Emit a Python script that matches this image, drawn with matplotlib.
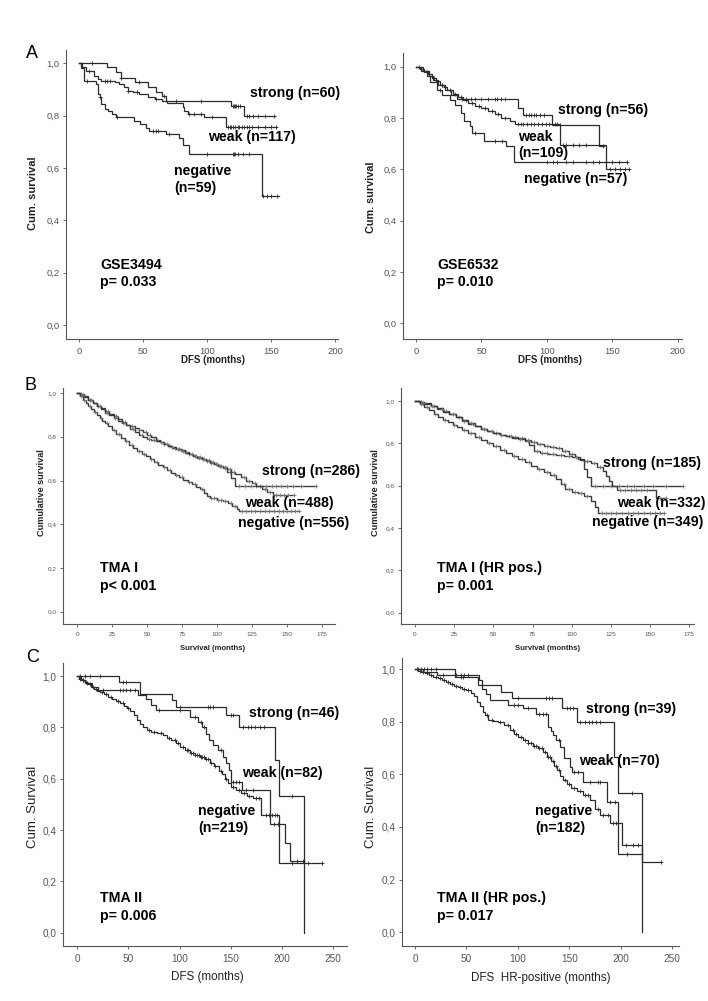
import matplotlib
matplotlib.use('Agg')
import matplotlib.pyplot as plt
import numpy as np

plt.rcParams['font.family'] = ['Liberation Sans', 'DejaVu Sans']

# ---------------- DATA ----------------
# Panel A left: GSE3494
a1_strong_t = [22, 29, 33, 44, 54, 60, 65, 68, 119, 129]
a1_strong_s = [0.987, 0.966, 0.944, 0.927, 0.908, 0.889, 0.876, 0.857, 0.838, 0.797]
a1_strong_end = 153
a1_strong_c = [10, 33, 47, 66, 76, 95, 120, 121, 122, 123, 124, 126, 131, 133, 136, 140, 145, 152]
a1_weak_t = [2, 5.5, 12, 14.6, 17, 28, 31.5, 35, 38, 42, 47, 54, 59, 65, 69, 81, 82, 85, 98, 115]
a1_weak_s = [0.987, 0.972, 0.953, 0.94, 0.931, 0.927, 0.92, 0.908, 0.896, 0.889, 0.883, 0.873, 0.864,
             0.857, 0.847, 0.834, 0.819, 0.806, 0.794, 0.755]
a1_weak_end = 154
a1_weak_c = [8, 20, 22, 24, 38, 45, 60, 86, 90, 95, 104, 116, 118, 119, 120, 122, 124, 125, 127, 129,
             131, 133, 135, 140, 145, 150, 154]
a1_neg_t = [1.6, 4.2, 13.3, 14.6, 16, 17.2, 20, 22.4, 26, 29, 43, 48, 52, 55, 68, 78, 81, 86, 143]
a1_neg_s = [0.983, 0.934, 0.921, 0.883, 0.873, 0.845, 0.825, 0.819, 0.806, 0.796, 0.781, 0.768, 0.753,
            0.743, 0.732, 0.715, 0.689, 0.655, 0.493]
a1_neg_end = 156
a1_neg_c = [6, 16, 30, 58, 60, 62, 70, 100, 120, 121, 122, 124, 128, 133, 144, 147, 150, 155]

# Panel A right: GSE6532
a2_strong_t = [4, 10, 13, 17, 22, 27, 31, 78, 82, 104, 140]
a2_strong_s = [0.982, 0.964, 0.946, 0.928, 0.91, 0.891, 0.873, 0.84, 0.811, 0.772, 0.69]
a2_strong_end = 143
a2_strong_c = [2, 20, 35, 38, 42, 45, 50, 55, 60, 62, 65, 68, 84, 86, 88, 90, 92, 95, 98, 110, 143]
a2_weak_t = [3, 6, 9, 12, 15, 18, 21, 24, 28, 32, 36, 40, 45, 50, 55, 60, 65, 72, 76, 110, 145]
a2_weak_s = [0.99, 0.98, 0.97, 0.955, 0.945, 0.93, 0.92, 0.91, 0.895, 0.88, 0.868, 0.858, 0.848, 0.838,
             0.828, 0.815, 0.8, 0.787, 0.775, 0.695, 0.6]
a2_weak_end = 163
a2_weak_c = [8, 14, 20, 22, 26, 30, 34, 38, 43, 48, 53, 58, 63, 68, 78, 80, 82, 85, 88, 90, 93, 96, 99,
             102, 106, 108, 112, 115, 120, 125, 130, 148, 152, 156, 160, 163]
a2_neg_t = [5, 8, 11, 16, 20, 26, 30, 34, 37, 41, 43, 52, 69, 75]
a2_neg_s = [0.982, 0.965, 0.94, 0.91, 0.89, 0.87, 0.85, 0.82, 0.79, 0.77, 0.74, 0.71, 0.69, 0.627]
a2_neg_end = 161
a2_neg_c = [18, 45, 60, 66, 100, 105, 108, 115, 120, 130, 135, 140, 150, 155, 161]

# Panel B left: TMA I
b1_strong_t = [2, 5, 8, 11, 14, 17, 20, 23, 26, 29, 32, 35, 38, 41, 44, 47, 50, 53, 56, 59, 62, 65, 68,
               71, 74, 77, 80, 83, 86, 89, 92, 95, 98, 101, 104, 107, 110, 113]
b1_strong_s = [0.995, 0.985, 0.97, 0.955, 0.94, 0.925, 0.91, 0.9, 0.885, 0.872, 0.862, 0.855, 0.848,
               0.84, 0.832, 0.822, 0.81, 0.797, 0.785, 0.775, 0.765, 0.757, 0.75, 0.742, 0.735, 0.728,
               0.72, 0.712, 0.705, 0.698, 0.69, 0.682, 0.674, 0.665, 0.655, 0.64, 0.61, 0.574]
b1_strong_end = 171
b1_strong_c = [3, 9, 15, 21, 27, 33, 39, 44, 49, 52, 57, 62, 66, 70, 73, 76, 80, 84, 87, 90, 93, 96, 99,
               102, 106, 109, 116, 120, 124, 128, 131, 135, 139, 142, 146, 150, 154, 160, 171]
b1_weak_t = [2, 5, 8, 11, 14, 17, 20, 23, 26, 29, 32, 35, 38, 41, 44, 47, 50, 53, 56, 59, 62, 65, 68,
             71, 74, 77, 80, 83, 86, 89, 92, 95, 98, 101, 104, 107, 110, 113, 117, 121, 125, 128, 132,
             136, 140]
b1_weak_s = [0.99, 0.98, 0.968, 0.955, 0.942, 0.93, 0.918, 0.905, 0.893, 0.88, 0.868, 0.852, 0.835,
             0.822, 0.81, 0.8, 0.792, 0.786, 0.782, 0.776, 0.768, 0.76, 0.752, 0.745, 0.738, 0.73,
             0.722, 0.714, 0.707, 0.7, 0.692, 0.684, 0.676, 0.668, 0.66, 0.652, 0.64, 0.63, 0.615, 0.6,
             0.588, 0.575, 0.562, 0.548, 0.533]
b1_weak_end = 155
b1_weak_c = [4, 10, 16, 22, 28, 34, 40, 46, 51, 55, 60, 64, 68, 72, 75, 78, 82, 85, 88, 91, 94, 97,
             100, 103, 106, 109, 112, 119, 123, 127, 134, 138, 142, 145, 148, 151, 155]
b1_neg_t = [2, 4, 6, 8, 10, 12, 14, 16, 18, 20, 22, 25, 28, 31, 34, 37, 40, 43, 46, 49, 52, 55, 58, 61,
            64, 67, 70, 73, 76, 79, 82, 85, 88, 91, 93, 95, 100, 104, 108, 111, 114, 116]
b1_neg_s = [0.985, 0.97, 0.955, 0.94, 0.926, 0.913, 0.9, 0.887, 0.874, 0.861, 0.848, 0.83, 0.812,
            0.795, 0.779, 0.763, 0.748, 0.735, 0.722, 0.71, 0.698, 0.686, 0.673, 0.66, 0.647, 0.636,
            0.625, 0.614, 0.603, 0.592, 0.582, 0.572, 0.56, 0.545, 0.53, 0.518, 0.512, 0.505, 0.495,
            0.483, 0.472, 0.46]
b1_neg_end = 159
b1_neg_c = [3, 5, 9, 13, 17, 21, 26, 30, 35, 39, 44, 48, 53, 57, 62, 66, 71, 75, 80, 84, 89, 96, 98,
            101, 103, 106, 110, 113, 118, 121, 124, 127, 131, 134, 137, 141, 144, 147, 150, 153, 156, 159]

# Panel B right: TMA I (HR pos.)
b2_strong_t = [3, 6, 10, 14, 18, 22, 26, 30, 34, 38, 42, 46, 50, 54, 58, 62, 66, 70, 74, 78, 82, 86,
               90, 94, 98, 102, 105, 108, 110, 112]
b2_strong_s = [0.995, 0.988, 0.978, 0.966, 0.953, 0.94, 0.925, 0.91, 0.895, 0.88, 0.868, 0.857, 0.848,
               0.84, 0.835, 0.83, 0.823, 0.815, 0.805, 0.795, 0.788, 0.782, 0.776, 0.765, 0.748, 0.735,
               0.72, 0.68, 0.64, 0.598]
b2_strong_end = 171
b2_strong_c = [4, 12, 20, 28, 36, 44, 52, 60, 64, 68, 72, 76, 80, 84, 88, 92, 96, 100, 115, 120, 125,
               130, 135, 140, 146, 152, 160, 171]
b2_weak_t = [3, 6, 10, 14, 18, 22, 26, 30, 34, 38, 42, 46, 50, 54, 58, 62, 66, 70, 73, 76, 80, 85, 90,
             95, 100, 104, 108, 112, 116, 120, 122, 124, 126, 129, 154]
b2_weak_s = [0.992, 0.985, 0.975, 0.963, 0.95, 0.937, 0.922, 0.907, 0.893, 0.88, 0.868, 0.857, 0.848,
             0.84, 0.833, 0.827, 0.82, 0.81, 0.79, 0.765, 0.755, 0.75, 0.745, 0.74, 0.735, 0.725,
             0.715, 0.705, 0.69, 0.67, 0.645, 0.62, 0.6, 0.578, 0.54]
b2_weak_end = 160
b2_weak_c = [5, 11, 17, 24, 31, 37, 44, 49, 55, 61, 67, 72, 78, 81, 84, 88, 93, 98, 103, 110, 114,
             118, 131, 134, 138, 141, 144, 148, 156, 160]
b2_neg_t = [3, 6, 9, 12, 15, 18, 21, 24, 27, 30, 34, 38, 42, 46, 50, 54, 58, 62, 66, 70, 74, 78, 82,
            86, 90, 93, 96, 100, 104, 108, 112, 115, 117]
b2_neg_s = [0.985, 0.97, 0.955, 0.94, 0.926, 0.912, 0.9, 0.888, 0.876, 0.864, 0.848, 0.832, 0.815,
            0.8, 0.785, 0.77, 0.755, 0.74, 0.725, 0.71, 0.695, 0.68, 0.665, 0.65, 0.632, 0.61, 0.585,
            0.572, 0.565, 0.55, 0.527, 0.5, 0.472]
b2_neg_end = 159
b2_neg_c = [4, 8, 13, 19, 25, 31, 36, 41, 47, 52, 57, 63, 68, 73, 79, 84, 89, 95, 98, 102, 106, 110,
            119, 122, 125, 128, 132, 136, 139, 142, 146, 150, 153, 156, 159]

# Panel C left: TMA II
c1_strong_t = [41, 61, 93, 96, 145, 158, 193, 197, 221]
c1_strong_s = [0.978, 0.932, 0.906, 0.88, 0.848, 0.803, 0.673, 0.534, 0.0]
c1_strong_end = 221
c1_strong_c = [3, 8, 12, 22, 45, 48, 100, 128, 130, 133, 150, 152, 162, 167, 170, 174, 178, 182, 210]
c1_weak_t = [4, 8, 14, 20, 59, 67, 72, 77, 110, 118, 122, 126, 129, 133, 137, 142, 145, 148, 150, 161,
             188, 203, 208]
c1_weak_s = [0.985, 0.972, 0.958, 0.946, 0.926, 0.909, 0.888, 0.867, 0.841, 0.822, 0.8, 0.775, 0.75,
             0.73, 0.71, 0.686, 0.66, 0.634, 0.588, 0.556, 0.425, 0.35, 0.28]
c1_weak_end = 221
c1_weak_c = [6, 10, 25, 42, 45, 48, 52, 56, 80, 100, 115, 121, 124, 140, 152, 155, 158, 165, 172, 192,
             196, 215, 220]
c1_neg_t = [2, 5, 8, 10, 13, 16, 19, 22, 26, 30, 34, 38, 42, 46, 49, 52, 55, 58, 61, 64, 68, 72, 78,
            84, 88, 92, 96, 100, 105, 110, 115, 120, 125, 130, 134, 138, 141, 144, 147, 150, 155, 160,
            166, 172, 179, 197]
c1_neg_s = [0.99, 0.984, 0.975, 0.968, 0.958, 0.95, 0.943, 0.937, 0.93, 0.92, 0.912, 0.903, 0.895,
            0.885, 0.876, 0.862, 0.85, 0.83, 0.815, 0.8, 0.788, 0.783, 0.777, 0.77, 0.76, 0.75, 0.738,
            0.725, 0.712, 0.7, 0.692, 0.684, 0.675, 0.662, 0.648, 0.632, 0.618, 0.6, 0.582, 0.568,
            0.557, 0.545, 0.532, 0.523, 0.458, 0.27]
c1_neg_end = 239
c1_neg_c = [3, 6, 9, 12, 15, 18, 24, 28, 33, 40, 45, 50, 70, 75, 82, 90, 95, 98, 103, 107, 108, 111,
            113, 115, 117, 119, 121, 122, 124, 126, 128, 131, 135, 140, 145, 152, 158, 163, 168, 175,
            177, 184, 187, 190, 193, 195, 210, 225, 239]

# Panel C right: TMA II (HR pos.)
c2_strong_t = [39, 61.5, 84, 94, 142.5, 157, 193, 197, 221]
c2_strong_s = [0.972, 0.94, 0.915, 0.889, 0.851, 0.8, 0.667, 0.53, 0.0]
c2_strong_end = 221
c2_strong_c = [3, 6, 9, 12, 16, 20, 45, 47, 100, 127, 130, 133, 148, 151, 154, 160, 165, 169, 172, 176,
               180, 211]
c2_weak_t = [8, 21, 62, 65, 69, 73, 90, 105, 118, 129.6, 132, 134.5, 137, 141, 145, 150.6, 153, 163.6,
             187, 197]
c2_weak_s = [0.99, 0.977, 0.958, 0.926, 0.907, 0.882, 0.863, 0.851, 0.831, 0.78, 0.765, 0.75, 0.73,
             0.705, 0.661, 0.63, 0.61, 0.572, 0.495, 0.297]
c2_weak_end = 221
c2_weak_c = [12, 27, 40, 45, 48, 52, 96, 100, 110, 121, 124, 127, 140, 155, 158, 170, 178, 180, 190,
             194, 206]
c2_neg_t = [3, 6, 10, 14, 18, 22, 26, 30, 34, 38, 42, 46, 50, 54, 57, 60, 63, 66, 68, 71, 76, 81, 87,
            92, 96, 100, 105, 110, 115, 120, 124, 128, 132, 135, 138, 141, 144, 148, 152, 157, 163,
            170, 175, 180, 190, 201, 221]
c2_neg_s = [0.995, 0.99, 0.985, 0.98, 0.972, 0.965, 0.958, 0.952, 0.945, 0.938, 0.932, 0.925, 0.92,
            0.91, 0.9, 0.877, 0.86, 0.839, 0.825, 0.807, 0.803, 0.8, 0.788, 0.77, 0.755, 0.743, 0.73,
            0.718, 0.71, 0.7, 0.685, 0.668, 0.65, 0.632, 0.615, 0.595, 0.578, 0.562, 0.55, 0.538,
            0.521, 0.502, 0.47, 0.445, 0.415, 0.333, 0.265]
c2_neg_end = 239
c2_neg_c = [2, 5, 8, 12, 16, 20, 24, 28, 32, 36, 40, 44, 48, 52, 70, 75, 83, 90, 95, 98, 103, 107,
            110, 113, 116, 118, 121, 123, 126, 129, 131, 134, 137, 140, 146, 150, 155, 160, 165, 168,
            178, 183, 188, 192, 195, 205, 212, 217, 239]

# ---------------- FIGURE ----------------
W, H = 708, 1001
fig = plt.figure(figsize=(W / 100, H / 100), dpi=100)


def fx(x):
    return x / W


def fy(y):
    return 1 - y / H


def km(ax, t, s, end, cens, color, lw, ms, mcolor):
    t = np.asarray(t, float)
    s = np.asarray(s, float)
    xs = np.concatenate([[0.0], t, [end]])
    ys = np.concatenate([[1.0], s, [s[-1]]])
    ax.step(xs, ys, where='post', color=color, lw=lw, solid_joinstyle='miter')
    c = np.asarray(cens, float)
    idx = np.searchsorted(t, c, side='right')
    yc = np.concatenate([[1.0], s])[idx]
    ax.plot(c, yc, ls='none', marker='+', ms=ms, mew=0.6, color=mcolor)


def fmt_comma(v):
    return ('%.1f' % v).replace('.', ',')


panels = [
    dict(rect=(66, 50, 338, 339), xlim=(-10.2, 202.3), ylim=(-0.053, 1.051), xt=[0, 50, 100, 150, 200],
         tfs=6.8, curves=[(a1_strong_t, a1_strong_s, a1_strong_end, a1_strong_c),
                          (a1_weak_t, a1_weak_s, a1_weak_end, a1_weak_c),
                          (a1_neg_t, a1_neg_s, a1_neg_end, a1_neg_c)], dense=False),
    dict(rect=(403, 53, 682, 339), xlim=(-10, 203.4), ylim=(-0.061, 1.053), xt=[0, 50, 100, 150, 200],
         tfs=6.8, curves=[(a2_strong_t, a2_strong_s, a2_strong_end, a2_strong_c),
                          (a2_weak_t, a2_weak_s, a2_weak_end, a2_weak_c),
                          (a2_neg_t, a2_neg_s, a2_neg_end, a2_neg_c)], dense=False),
    dict(rect=(63, 388, 335, 624), xlim=(-10.2, 184.4), ylim=(-0.056, 1.023),
         xt=[0, 25, 50, 75, 100, 125, 150, 175], tfs=4.6,
         curves=[(b1_strong_t, b1_strong_s, b1_strong_end, b1_strong_c),
                 (b1_weak_t, b1_weak_s, b1_weak_end, b1_weak_c),
                 (b1_neg_t, b1_neg_s, b1_neg_end, b1_neg_c)], dense=True),
    dict(rect=(401, 388, 694, 624), xlim=(-8.9, 178), ylim=(-0.053, 1.061),
         xt=[0, 25, 50, 75, 100, 125, 150, 175], tfs=4.6,
         curves=[(b2_strong_t, b2_strong_s, b2_strong_end, b2_strong_c),
                 (b2_weak_t, b2_weak_s, b2_weak_end, b2_weak_c),
                 (b2_neg_t, b2_neg_s, b2_neg_end, b2_neg_c)], dense=True),
    dict(rect=(63, 663, 347, 946), xlim=(-13.9, 263.4), ylim=(-0.052, 1.051),
         xt=[0, 50, 100, 150, 200, 250], tfs=7.2,
         curves=[(c1_strong_t, c1_strong_s, c1_strong_end, c1_strong_c),
                 (c1_weak_t, c1_weak_s, c1_weak_end, c1_weak_c),
                 (c1_neg_t, c1_neg_s, c1_neg_end, c1_neg_c)], dense=False),
    dict(rect=(402, 658, 679, 946), xlim=(-12.6, 256.6), ylim=(-0.053, 1.043),
         xt=[0, 50, 100, 150, 200, 250], tfs=7.2,
         curves=[(c2_strong_t, c2_strong_s, c2_strong_end, c2_strong_c),
                 (c2_weak_t, c2_weak_s, c2_weak_end, c2_weak_c),
                 (c2_neg_t, c2_neg_s, c2_neg_end, c2_neg_c)], dense=False),
]

yt = [0.0, 0.2, 0.4, 0.6, 0.8, 1.0]
for p in panels:
    x0, y0, x1, y1 = p['rect']
    ax = fig.add_axes([fx(x0), fy(y1), (x1 - x0) / W, (y1 - y0) / H])
    ax.set_xlim(*p['xlim'])
    ax.set_ylim(*p['ylim'])
    for side in ('top', 'right'):
        ax.spines[side].set_visible(False)
    for side in ('left', 'bottom'):
        ax.spines[side].set_color('#555555')
        ax.spines[side].set_linewidth(0.8)
    ax.set_yticks(yt)
    ax.set_yticklabels([fmt_comma(v) for v in yt])
    ax.set_xticks(p['xt'])
    ax.set_xticklabels([str(v) for v in p['xt']])
    ax.tick_params(axis='both', colors='#555555', labelcolor='#555555', labelsize=p['tfs'],
                   length=2.5, width=0.6, pad=2)
    ax.tick_params(axis='x', pad=3)
    ax.patch.set_visible(False)
    if p['dense']:
        col, lw, ms, mcol = '#3a3a3a', 1.0, 3.0, '#777777'
    else:
        col, lw, ms, mcol = '#2a2a2a', 0.9, 3.5, '#2a2a2a'
    for (t, s, end, c) in p['curves']:
        km(ax, t, s, end, c, col, lw, ms, mcol)

# ---------------- TEXT ----------------
def T(x, y, s, size, weight='bold', rot=0, ha='left', color='black'):
    fig.text(fx(x), fy(y), s, fontsize=size, fontweight=weight, rotation=rot, ha=ha, va='center',
             color=color)

# panel letters
T(32, 53, 'A', 13, 'normal', ha='center')
T(31, 385, 'B', 13, 'normal', ha='center')
T(33, 658, 'C', 13, 'normal', ha='center')

# y labels
T(33, 193, 'Cum. survival', 8, 'bold', 90, 'center', '#222222')
T(371, 197, 'Cum. survival', 7.8, 'bold', 90, 'center', '#222222')
T(42, 493, 'Cumulative survival', 6.6, 'bold', 90, 'center', '#222222')
T(376, 493, 'Cumulative survival', 6.6, 'bold', 90, 'center', '#222222')
T(33, 807, 'Cum. Survival', 9.5, 'normal', 90, 'center', '#222222')
T(371, 807, 'Cum. Survival', 9.5, 'normal', 90, 'center', '#222222')

# x labels
T(213, 360, 'DFS (months)', 7, 'bold', ha='center', color='#222222')
T(550, 360, 'DFS (months)', 7, 'bold', ha='center', color='#222222')
T(213, 648, 'Survival (months)', 5.5, 'bold', ha='center', color='#222222')
T(548, 648, 'Survival (months)', 5.5, 'bold', ha='center', color='#222222')
T(207, 977, 'DFS (months)', 8.4, 'normal', ha='center', color='#222222')
T(541, 978, 'DFS  HR-positive (months)', 8.4, 'normal', ha='center', color='#222222')

# annotations
fs = 10.2
T(250, 93, 'strong (n=60)', fs)
T(208, 137, 'weak (n=117)', fs)
T(174, 171, 'negative', fs)
T(174, 188, '(n=59)', fs)
T(100, 265, 'GSE3494', fs)
T(100, 282, 'p= 0.033', fs)

T(558, 110, 'strong (n=56)', fs)
T(518, 137, 'weak', fs)
T(518, 153, '(n=109)', fs)
T(524, 179, 'negative (n=57)', fs)
T(437, 265, 'GSE6532', fs)
T(437, 282, 'p= 0.010', fs)

T(262, 471, 'strong (n=286)', fs)
T(245, 503, 'weak (n=488)', fs)
T(238, 523, 'negative (n=556)', fs)
T(100, 568, 'TMA I', fs)
T(100, 586, 'p< 0.001', fs)

T(603, 463, 'strong (n=185)', fs)
T(617, 503, 'weak (n=332)', fs)
T(592, 522, 'negative (n=349)', fs)
T(437, 568, 'TMA I (HR pos.)', fs)
T(437, 586, 'p= 0.001', fs)

T(249, 713, 'strong (n=46)', fs)
T(242, 773, 'weak (n=82)', fs)
T(198, 811, 'negative', fs)
T(198, 828, '(n=219)', fs)
T(100, 898, 'TMA II', fs)
T(100, 916, 'p= 0.006', fs)

T(586, 709, 'strong (n=39)', fs)
T(579, 761, 'weak (n=70)', fs)
T(535, 811, 'negative', fs)
T(535, 828, '(n=182)', fs)
T(437, 898, 'TMA II (HR pos.)', fs)
T(437, 916, 'p= 0.017', fs)

fig.savefig('out.png', dpi=100, facecolor='white')
